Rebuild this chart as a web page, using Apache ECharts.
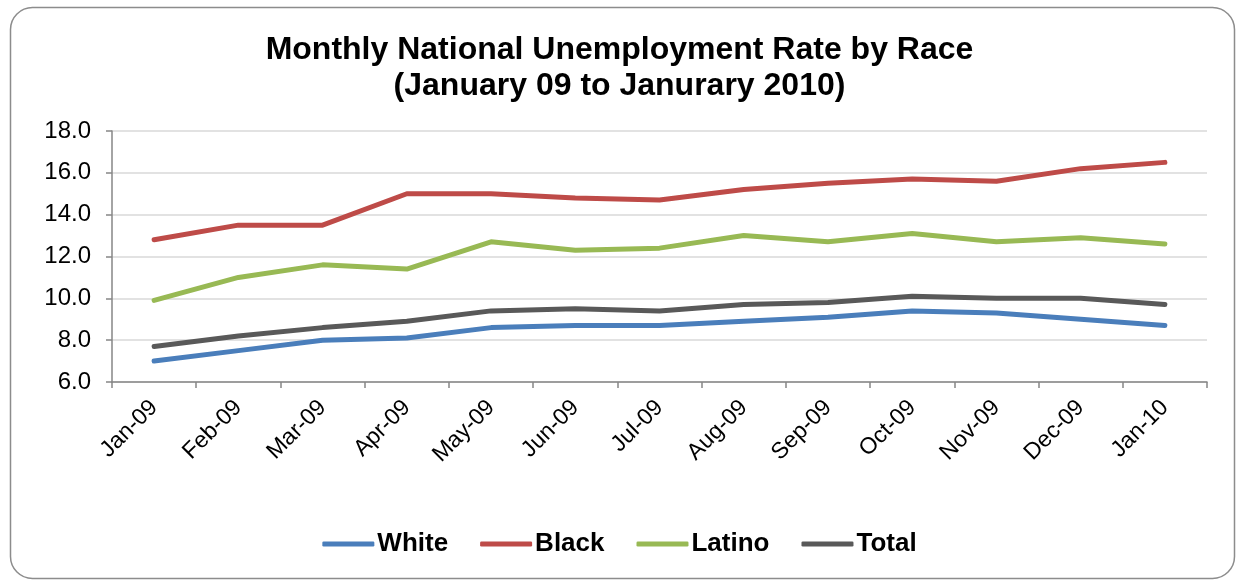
<!DOCTYPE html>
<html><head><meta charset="utf-8">
<script src="https://cdn.jsdelivr.net/npm/echarts@6/dist/echarts.min.js"></script>
<style>html,body{margin:0;padding:0;background:#fff}#c{width:1239px;height:580px}</style>
</head><body><div id="c"></div>
<script>
const categories = ['Jan-09','Feb-09','Mar-09','Apr-09','May-09','Jun-09','Jul-09','Aug-09','Sep-09','Oct-09','Nov-09','Dec-09','Jan-10'];
const white  = [7.0, 7.5, 8.0, 8.1, 8.6, 8.7, 8.7, 8.9, 9.1, 9.4, 9.3, 9.0, 8.7];
const black  = [12.8, 13.5, 13.5, 15.0, 15.0, 14.8, 14.7, 15.2, 15.5, 15.7, 15.6, 16.2, 16.5];
const latino = [9.9, 11.0, 11.6, 11.4, 12.7, 12.3, 12.4, 13.0, 12.7, 13.1, 12.7, 12.9, 12.6];
const total  = [7.7, 8.2, 8.6, 8.9, 9.4, 9.5, 9.4, 9.7, 9.8, 10.1, 10.0, 10.0, 9.7];
const seriesNames = ['White','Black','Latino','Total'];
const colors = ['#4a7ebb','#be4b48','#98b954','#595959'];
const font = '"Liberation Sans", Arial, sans-serif';

const chart = echarts.init(document.getElementById('c'), null, {renderer:'canvas'});
const mk = (name, data, i) => ({
  name, type:'line', data, symbol:'none', smooth:false,
  lineStyle:{width:5, color:colors[i], cap:'round', join:'round'},
  itemStyle:{color:colors[i]}
});
chart.setOption({
  animation:false,
  graphic:[{type:'rect', left:8, top:5, shape:{width:1224, height:571, r:22},
    style:{fill:'none', stroke:'#8c8c8c', lineWidth:1.5}, z:-1}],
  title:{text:'Monthly National Unemployment Rate by Race\n(January 09 to Janurary 2010)', left:'center', top:27,
    textStyle:{fontFamily:font, fontSize:32, fontWeight:'bold', color:'#000', lineHeight:36}},
  legend:{bottom:18, left:'center', itemWidth:52, itemHeight:5, itemGap:32, icon:'roundRect',
    data:seriesNames,
    textStyle:{fontFamily:font, fontSize:26, fontWeight:'bold', color:'#000', padding:[0,0,0,-2]}},
  grid:{left:112, right:32, top:131, bottom:198, containLabel:false},
  xAxis:{type:'category', data:categories, boundaryGap:true,
    axisLine:{lineStyle:{color:'#868686', width:1.5}},
    axisTick:{show:true, alignWithLabel:false, length:6, lineStyle:{color:'#868686', width:1.5}},
    axisLabel:{rotate:45, interval:0, fontFamily:font, fontSize:23, color:'#000', margin:22}},
  yAxis:{type:'value', min:6, max:18, interval:2,
    axisLine:{show:true, lineStyle:{color:'#868686', width:1.5}},
    axisTick:{show:true, length:6, lineStyle:{color:'#868686', width:1.5}},
    splitLine:{lineStyle:{color:'#d9d9d9', width:1.5}},
    axisLabel:{fontFamily:font, fontSize:24, color:'#000', margin:21, formatter:v=>v.toFixed(1)}},
  series:[mk('White',white,0), mk('Black',black,1), mk('Latino',latino,2), mk('Total',total,3)]
});
</script></body></html>
